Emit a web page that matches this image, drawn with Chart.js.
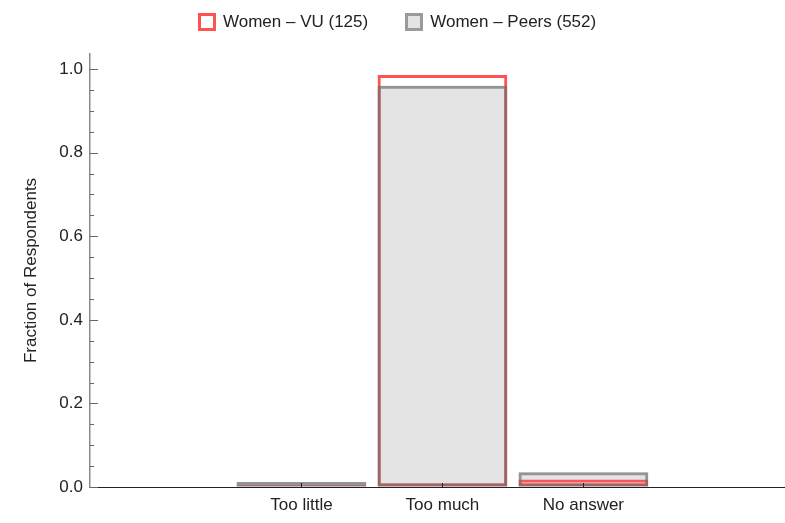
<!DOCTYPE html>
<html>
<head>
<meta charset="utf-8">
<script src="https://cdn.jsdelivr.net/npm/chart.js@4.4.0/dist/chart.umd.min.js"></script>
<style>
html,body{margin:0;padding:0;background:#fff;}
#wrap{position:relative;width:785px;height:523px;}
#legend{position:absolute;left:198px;top:13px;display:flex;gap:37px;font:17px "Liberation Sans",Arial,sans-serif;color:#222;}
.item{display:flex;align-items:center;gap:7px;height:18px;line-height:18px;}
.box{width:18px;height:18px;box-sizing:border-box;border:3px solid;}
</style>
</head>
<body>
<div id="wrap">
  <canvas id="c" width="785" height="523"></canvas>
  <div id="legend"></div>
</div>
<script>
const categories = ['Too little', 'Too much', 'No answer'];
const vuValues   = [0.004, 0.986, 0.018];
const peerValues = [0.012, 0.960, 0.035];
const seriesNames = ['Women \u2013 VU (125)', 'Women \u2013 Peers (552)'];

const RED = '#ff5252';
const GRAY_EDGE = 'rgba(110,110,110,0.68)';
const GRAY_FILL = '#e4e4e4';
const FONT = '"Liberation Sans", Arial, sans-serif';

// html legend
document.getElementById('legend').innerHTML = [
  {name: seriesNames[0], bg:'#fff', edge: RED},
  {name: seriesNames[1], bg: GRAY_FILL, edge: '#9a9a9a'}
].map(l => `<div class="item"><span class="box" style="background:${l.bg};border-color:${l.edge}"></span><span>${l.name}</span></div>`).join('');

const pts = arr => arr.map((v, i) => ({x: i, y: v}));

// inward tick marks, Mathematica-like
const inwardTicks = {
  id: 'inwardTicks',
  afterDraw(chart){
    const {ctx, scales:{x, y}} = chart;
    ctx.save();
    ctx.lineWidth = 1;
    ctx.strokeStyle = '#666';
    y.ticks.forEach(t => {
      const r = Math.round(t.value * 100);
      const len = r % 20 === 0 ? 8 : 4;
      const py = Math.round(y.getPixelForValue(t.value)) + 0.5;
      ctx.beginPath(); ctx.moveTo(y.right, py); ctx.lineTo(y.right + len, py); ctx.stroke();
    });
    ctx.strokeStyle = '#222';
    categories.forEach((c, i) => {
      const px = Math.round(x.getPixelForValue(i)) + 0.5;
      ctx.beginPath(); ctx.moveTo(px, x.top); ctx.lineTo(px, x.top - 4); ctx.stroke();
    });
    ctx.restore();
  }
};

new Chart(document.getElementById('c'), {
  type: 'bar',
  data: {
    datasets: [
      { label: seriesNames[0], data: pts(vuValues), backgroundColor: 'rgba(0,0,0,0)',
        borderColor: RED, borderWidth: 3, borderSkipped: false, order: 1 },
      { label: seriesNames[1], data: pts(peerValues), backgroundColor: 'rgba(0,0,0,0)',
        borderColor: GRAY_EDGE, borderWidth: 3, borderSkipped: false, order: 0 },
      // fill of the peers bars, kept under the red outline
      { label: 'fill', data: pts(peerValues), backgroundColor: GRAY_FILL,
        borderWidth: 0, order: 2 }
    ]
  },
  options: {
    responsive: false,
    animation: false,
    layout: { padding: { top: 54, right: 0, left: 0, bottom: 0 } },
    datasets: { bar: { grouped: false, categoryPercentage: 1, barPercentage: 0.92 } },
    plugins: { legend: { display: false }, tooltip: { enabled: false } },
    scales: {
      x: {
        type: 'linear', min: -1.5, max: 3.43, z: 1, offset: false,
        afterBuildTicks: s => { s.ticks = categories.map((c, i) => ({value: i})); },
        afterFit: s => { s.height = 36; },
        grid: { drawOnChartArea: false, drawTicks: false, offset: false },
        border: { color: '#222', width: 1 },
        ticks: { autoSkip: false, maxRotation: 0, padding: 8, color: '#222',
          font: { family: FONT, size: 17 },
          callback: v => categories[v] ?? '' }
      },
      y: {
        min: 0, max: 1.036,
        afterFit: s => { s.width = 90; },
        grid: { drawOnChartArea: false, drawTicks: false },
        border: { color: '#8a8a8a', width: 1.5 },
        title: { display: true, text: 'Fraction of Respondents', color: '#222',
          font: { family: FONT, size: 17 }, padding: { top: 21, bottom: 0 } },
        ticks: { stepSize: 0.05, includeBounds: false, autoSkip: false, padding: 7, color: '#222',
          font: { family: FONT, size: 17 },
          callback: v => { const r = Math.round(v * 100); return r % 20 === 0 ? (r / 100).toFixed(1) : ''; } }
      }
    }
  },
  plugins: [inwardTicks]
});
</script>
</body>
</html>
